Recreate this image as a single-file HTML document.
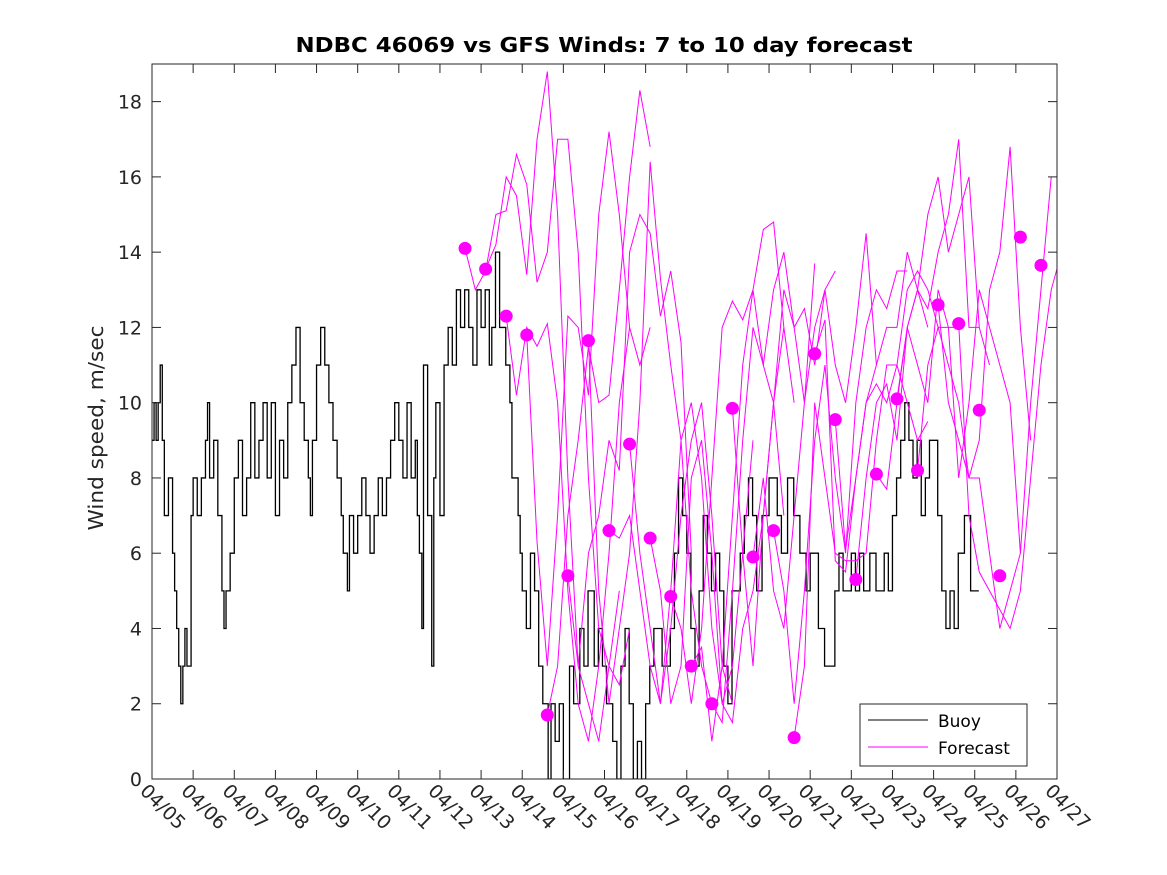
<!DOCTYPE html>
<html><head><meta charset="utf-8"><style>
html,body{margin:0;padding:0;background:#fff;}
svg{display:block;font-family:"DejaVu Sans","Liberation Sans",sans-serif;}
</style></head><body>
<svg id="chart" width="1167" height="875">
<rect x="0" y="0" width="1167" height="875" fill="#fff"/>
<defs><clipPath id="clip"><rect x="152" y="64" width="905" height="715"/></clipPath></defs>
<text x="604" y="52" text-anchor="middle" font-size="20" font-weight="bold" fill="#000" textLength="617" lengthAdjust="spacingAndGlyphs">NDBC 46069 vs GFS Winds: 7 to 10 day forecast</text>
<text transform="translate(103,428) rotate(-90)" text-anchor="middle" font-size="20" fill="#262626" textLength="205" lengthAdjust="spacingAndGlyphs">Wind speed, m/sec</text>
<g id="plot" clip-path="url(#clip)"></g>
<g id="axes"></g>
<g>
<rect x="860" y="704" width="167" height="62" fill="#fff" stroke="#262626" stroke-width="1"/>
<line x1="868" y1="720" x2="928" y2="720" stroke="#000" stroke-width="1"/>
<text x="938" y="727" font-size="17" fill="#000">Buoy</text>
<line x1="868" y1="747" x2="928" y2="747" stroke="#f0f" stroke-width="1"/>
<text x="938" y="754" font-size="17" fill="#000">Forecast</text>
</g>
</svg>
<script>
const xTickLabels=["04/05","04/06","04/07","04/08","04/09","04/10","04/11","04/12","04/13","04/14","04/15","04/16","04/17","04/18","04/19","04/20","04/21","04/22","04/23","04/24","04/25","04/26","04/27"];
const yTicks=[0,2,4,6,8,10,12,14,16,18];
const buoyT=[0,.05,.1,.15,.2,.25,.3,.4,.5,.55,.6,.65,.7,.75,.8,.85,.95,1.0,1.1,1.2,1.3,1.35,1.4,1.5,1.6,1.7,1.75,1.8,1.9,2.0,2.1,2.2,2.3,2.4,2.5,2.6,2.7,2.8,2.9,3.0,3.1,3.2,3.3,3.4,3.5,3.6,3.7,3.8,3.85,3.9,4.0,4.1,4.2,4.3,4.4,4.5,4.6,4.65,4.75,4.8,4.9,5.0,5.1,5.2,5.3,5.4,5.5,5.6,5.7,5.8,5.9,6.0,6.1,6.2,6.3,6.4,6.45,6.5,6.56,6.6,6.7,6.8,6.85,6.9,7.0,7.1,7.2,7.3,7.4,7.5,7.6,7.7,7.8,7.9,8.0,8.1,8.2,8.26,8.35,8.45,8.6,8.7,8.75,8.9,8.95,9.0,9.1,9.2,9.3,9.4,9.5,9.63,9.7,9.8,9.9,10.0,10.15,10.25,10.4,10.5,10.6,10.75,10.85,10.95,11.05,11.2,11.3,11.4,11.5,11.6,11.7,11.8,11.9,12.0,12.1,12.2,12.4,12.6,12.7,12.8,12.9,13.0,13.1,13.2,13.3,13.4,13.5,13.6,13.7,13.8,13.9,14.0,14.1,14.2,14.3,14.4,14.5,14.6,14.7,14.83,15.0,15.1,15.2,15.3,15.45,15.6,15.75,15.9,16.0,16.2,16.35,16.5,16.6,16.7,16.8,17.0,17.1,17.2,17.3,17.45,17.6,17.8,17.9,18.0,18.1,18.2,18.3,18.4,18.5,18.6,18.7,18.8,18.9,19.0,19.1,19.2,19.3,19.4,19.5,19.6,19.75,19.9,20.0,20.1,20.3,20.4,20.5,20.55,20.7,20.85,20.95,21.0,21.1,21.15,21.2];
const buoyV=[9,10,9,10,11,9,7,8,6,5,4,3,2,3,4,3,7,8,7,8,9,10,8,9,7,5,4,5,6,8,9,7,8,10,8,9,10,8,10,7,9,8,10,11,12,10,9,8,7,9,11,12,11,10,9,8,7,6,5,7,6,7,8,7,6,7,8,7,8,9,10,9,8,10,8,9,7,6,4,11,7,3,8,10,7,11,12,11,13,12,13,12,11,13,12,13,11,12,14,12,11,10,8,7,6,5,4,6,5,3,2,0,2,1,2,0,3,2,4,3,5,3,4,3,2,1,0,3,4,2,0,1,0,2,3,4,3,4,6,8,7,6,4,3,5,7,6,5,6,5,3,2,5,5,6,7,8,7,5,7,8,8,7,6,8,7,6,5,6,4,3,3,5,6,5,6,5,6,5,6,5,6,5,7,8,9,10,9,8,9,7,8,9,9,7,5,4,5,4,6,7,5,5];
const dotT=[7.61,8.11,8.61,9.11,9.61,10.11,10.61,11.11,11.61,12.11,12.61,13.11,13.61,14.11,14.61,15.11,15.61,16.11,16.61,17.11,17.61,18.11,18.61,19.11,19.61,20.11,20.61,21.11,21.61];
const dotV=[14.1,13.55,12.3,11.8,1.7,5.4,11.65,6.6,8.9,6.4,4.85,3.0,2.0,9.85,5.9,6.6,1.1,11.3,9.55,5.3,8.1,10.1,8.2,12.6,12.1,9.8,5.4,14.4,13.65];
const fcStart=[7.61,8.11,8.61,9.11,9.61,10.11,10.61,11.11,11.61,12.11,12.61,13.11,13.61,14.11,14.61,15.11,15.61,16.11,16.61,17.11,17.61,18.11,18.61,19.11,19.61];
const fc0=[14.1,13,13.5,15,15.1,16.6,15.8,13.2,14,17,17,14,8,4,3,2.5,4];
const fc1=[13.55,14.2,16,15.5,13.4,17,18.8,15,8,3,2,1,3,5];
const fc2=[12.3,10.2,12,11.5,12.1,10,5,2,1,3,6,10,12];
const fc3=[11.8,6.3,3,7,12.3,12,10.2,15,17.2,15,12,11,12];
const fc4=[1.7,3,7,9,11.5,10,10.2,13,16,18.3,16.8];
const fc5=[5.4,3,6,7,9,8.2,14,15,14.5,12.3,13.5,11.6,6];
const fc6=[11.65,5,2,4,6,10,16.4,13.3,11,9,5,3,2];
const fc7=[6.6,6.4,7,5,3,2,4,7,9,10,7,3,2];
const fc8=[8.9,6,4,2,5,9,10,8,4,2,3,6,9];
const fc9=[6.4,5,2,3,8,9,6,2,1.5,4,5,7,10,12];
const fc10=[4.85,4,2,4,8,12,12.7,12.2,13,11,10,7];
const fc11=[3.0,3.5,1,3,7,11,13,14.6,14.8,12,10];
const fc12=[2.0,1.5,5,9,12,11,13,14,12,10,13.7];
const fc13=[9.85,6,3,7,10,13,12,12.5,11,13,13.5];
const fc14=[5.9,8,5,4,7,10,12,13,11,10,12,14.5,11];
const fc15=[6.6,5,2,5,9,11,8,6,10,12,13,12.5,13.5,13.5];
const fc16=[1.1,3,10,8,6,5.8,5.8,6,9,11,11,10,9,9.5];
const fc17=[11.3,12.2,5.8,5.5,8,10,11,12,12,14,13,12];
const fc18=[9.55,6.1,8,10,10.5,10,11,13,13.5,13,12,12,12];
const fc19=[5.3,8,10,10.5,9,12,13,15,16,14,15,16,12];
const fc20=[8.1,7.7,10,12,13,12.5,14,15,17,12,12,11];
const fc21=[10.1,12,11,10,13,12,8,10,13,12,11,10,6];
const fc22=[8.2,11,12,11,10,8,9,13,14,16.8,12,9];
const fc23=[12.6,10,9,8,8,6,4,5,6,10,13,16];
const fc24=[12.1,7,5.5,5,4.5,4,5,8,11,13,14,12];
const fcSeries=[fc0,fc1,fc2,fc3,fc4,fc5,fc6,fc7,fc8,fc9,fc10,fc11,fc12,fc13,fc14,fc15,fc16,fc17,fc18,fc19,fc20,fc21,fc22,fc23,fc24];

const X0=152,X1=1057,Y0=779,Y1=64,YMAX=19,DMAX=22;
const xs=d=>X0+d*(X1-X0)/DMAX;
const ys=v=>Y0-v*(Y0-Y1)/YMAX;
const NS="http://www.w3.org/2000/svg";
const plot=document.getElementById('plot'),axes=document.getElementById('axes');
function mk(tag,attrs,parent){const e=document.createElementNS(NS,tag);for(const k in attrs)e.setAttribute(k,attrs[k]);parent.appendChild(e);return e;}

let d='M'+xs(buoyT[0])+','+ys(buoyV[0]);
for(let i=1;i<buoyT.length;i++){d+='H'+xs(buoyT[i])+'V'+ys(buoyV[i]);}
const bp=mk('path',{d:d,fill:'none',stroke:'#000','stroke-width':1.3},plot);



fcSeries.forEach((s,k)=>{
  const pts=s.map((v,i)=>xs(fcStart[k]+i*0.25)+','+ys(v)).join(' ');
  const pl=mk('polyline',{points:pts,fill:'none',stroke:'#f0f','stroke-width':1},plot);
  
  
});
dotT.forEach((t,i)=>{
  const c=mk('circle',{cx:xs(t),cy:ys(dotV[i]),r:6.5,fill:'#f0f'},plot);
  
  
});

const box=mk('rect',{x:X0,y:Y1,width:X1-X0,height:Y0-Y1,fill:'none',stroke:'#262626','stroke-width':1},axes);


yTicks.forEach(v=>{
  const y=ys(v);
  mk('line',{x1:X0,y1:y,x2:X0+9,y2:y,stroke:'#262626'},axes);
  mk('line',{x1:X1,y1:y,x2:X1-9,y2:y,stroke:'#262626'},axes);
  const t=mk('text',{x:X0-10,y:y+7,'text-anchor':'end','font-size':19,fill:'#262626'},axes);
  t.textContent=v;
  
  
});
xTickLabels.forEach((lab,i)=>{
  const x=xs(i);
  mk('line',{x1:x,y1:Y0,x2:x,y2:Y0-9,stroke:'#262626'},axes);
  mk('line',{x1:x,y1:Y1,x2:x,y2:Y1+9,stroke:'#262626'},axes);
  const t=mk('text',{transform:'translate('+(x-13)+','+(Y0+13)+') rotate(45)','font-size':19,fill:'#262626'},axes);
  t.textContent=lab;
  
  
});
</script>
</body></html>
